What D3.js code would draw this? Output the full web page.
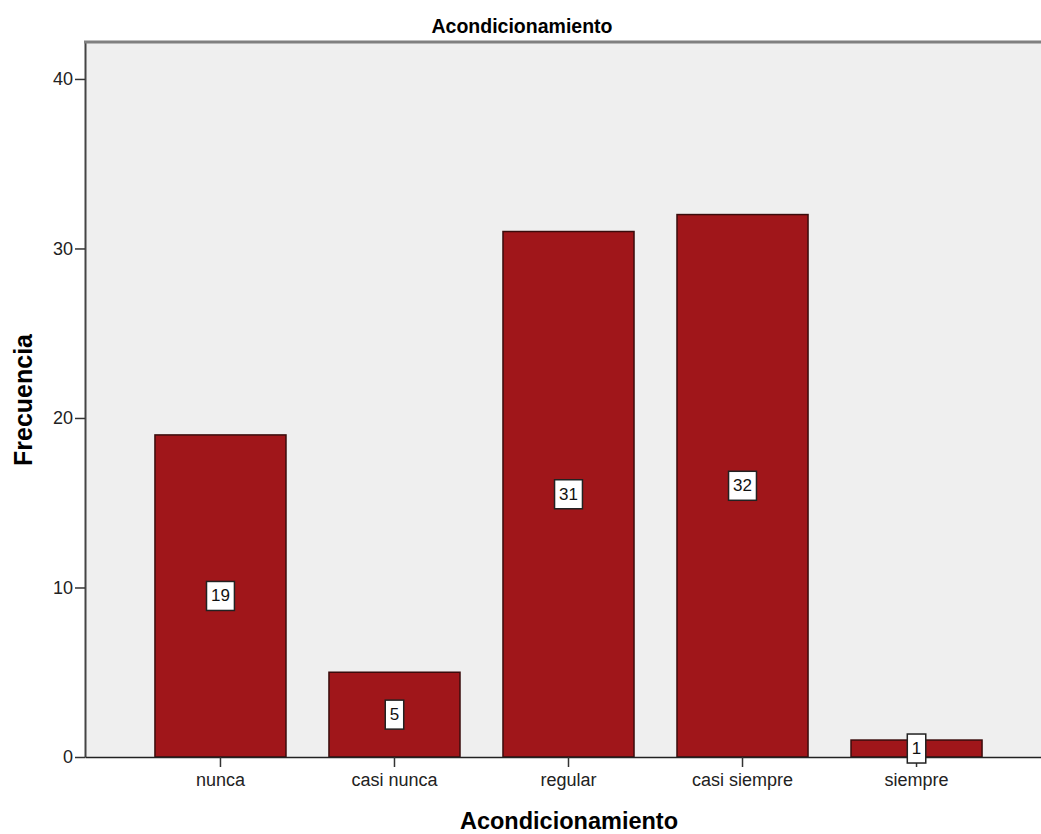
<!DOCTYPE html>
<html><head><meta charset="utf-8">
<script src="https://cdn.jsdelivr.net/npm/d3@7"></script>
<style>
html,body{margin:0;padding:0;background:#fff;}
text{font-family:"Liberation Sans",Arial,sans-serif;}
</style></head>
<body>
<svg id="chart" width="1041" height="834"></svg>
<script>
const categories = ["nunca","casi nunca","regular","casi siempre","siempre"];
const values = [19,5,31,32,1];
const yTicks = [0,10,20,30,40];
const chartTitle = "Acondicionamiento";
const xTitle = "Acondicionamiento";
const yTitle = "Frecuencia";

(function(){
const svg = d3.select("#chart");
const pLeft = 85, pRight = 1052, pTop = 42, pBottom = 757;

const x = d3.scaleBand().domain(categories).range([pLeft, pRight]).paddingInner(0.247).paddingOuter(0.402);
const y = d3.scaleLinear().domain([0, 42.18]).range([pBottom, pTop]);

// plot background
svg.append("rect").attr("x", pLeft).attr("y", pTop).attr("width", pRight-pLeft).attr("height", pBottom-pTop).attr("fill", "#efefef");

// bars
svg.append("g").selectAll("rect").data(values).join("rect")
  .attr("x", (d,i) => x(categories[i]))
  .attr("y", d => y(d))
  .attr("width", x.bandwidth())
  .attr("height", d => y(0) - y(d))
  .attr("fill", "#a0161a")
  .attr("stroke", "#3a0c0c")
  .attr("stroke-width", 1.5);

// y axis
const yAxis = svg.append("g").attr("transform", `translate(${pLeft},0)`)
  .call(d3.axisLeft(y).tickValues(yTicks).tickSize(10).tickSizeOuter(0).tickPadding(2).tickFormat(d3.format("d")));
yAxis.select(".domain").attr("stroke", "#444").attr("stroke-width", 2);
yAxis.selectAll(".tick line").attr("stroke", "#333").attr("stroke-width", 1.5);
yAxis.selectAll(".tick text").attr("font-size", 18).attr("fill", "#222").attr("font-family", "Liberation Sans, Arial, sans-serif");

// top border
svg.append("line").attr("x1", pLeft - 1).attr("x2", pRight).attr("y1", pTop).attr("y2", pTop).attr("stroke", "#808080").attr("stroke-width", 3);

// x axis
const xAxis = svg.append("g").attr("transform", `translate(0,${pBottom})`)
  .call(d3.axisBottom(x).tickSize(10).tickPadding(6).tickSizeOuter(0));
xAxis.select(".domain").attr("stroke", "#222").attr("stroke-width", 1.5);
xAxis.selectAll(".tick line").attr("stroke", "#333").attr("stroke-width", 1.5);
xAxis.selectAll(".tick text").attr("font-size", 18).attr("fill", "#222").attr("font-family", "Liberation Sans, Arial, sans-serif");

// value labels
const lg = svg.append("g");
values.forEach((v,i) => {
  const cx = x(categories[i]) + x.bandwidth()/2;
  const cy = y(v/2);
  const g = lg.append("g");
  const t = g.append("text").attr("x", cx).attr("y", cy).attr("text-anchor","middle")
    .attr("dominant-baseline","central").attr("font-size", 17).attr("fill","#111").text(v);
  const w = t.node().getComputedTextLength() + 9;
  const h = 29;
  g.insert("rect","text").attr("x", cx - w/2).attr("y", cy - h/2).attr("width", w).attr("height", h)
    .attr("fill","#fff").attr("stroke","#222").attr("stroke-width",1.5);
});

// titles
svg.append("text").attr("x", 522).attr("y", 33).attr("text-anchor","middle")
  .attr("font-size", 19.5).attr("font-weight","bold").attr("fill","#000").text(chartTitle);
svg.append("text").attr("x", 569).attr("y", 829).attr("text-anchor","middle")
  .attr("font-size", 23.5).attr("font-weight","bold").attr("fill","#000").text(xTitle);
svg.append("text").attr("transform","translate(32,400) rotate(-90)").attr("text-anchor","middle")
  .attr("font-size", 25).attr("font-weight","bold").attr("fill","#000").text(yTitle);
})();
</script>
</body></html>
